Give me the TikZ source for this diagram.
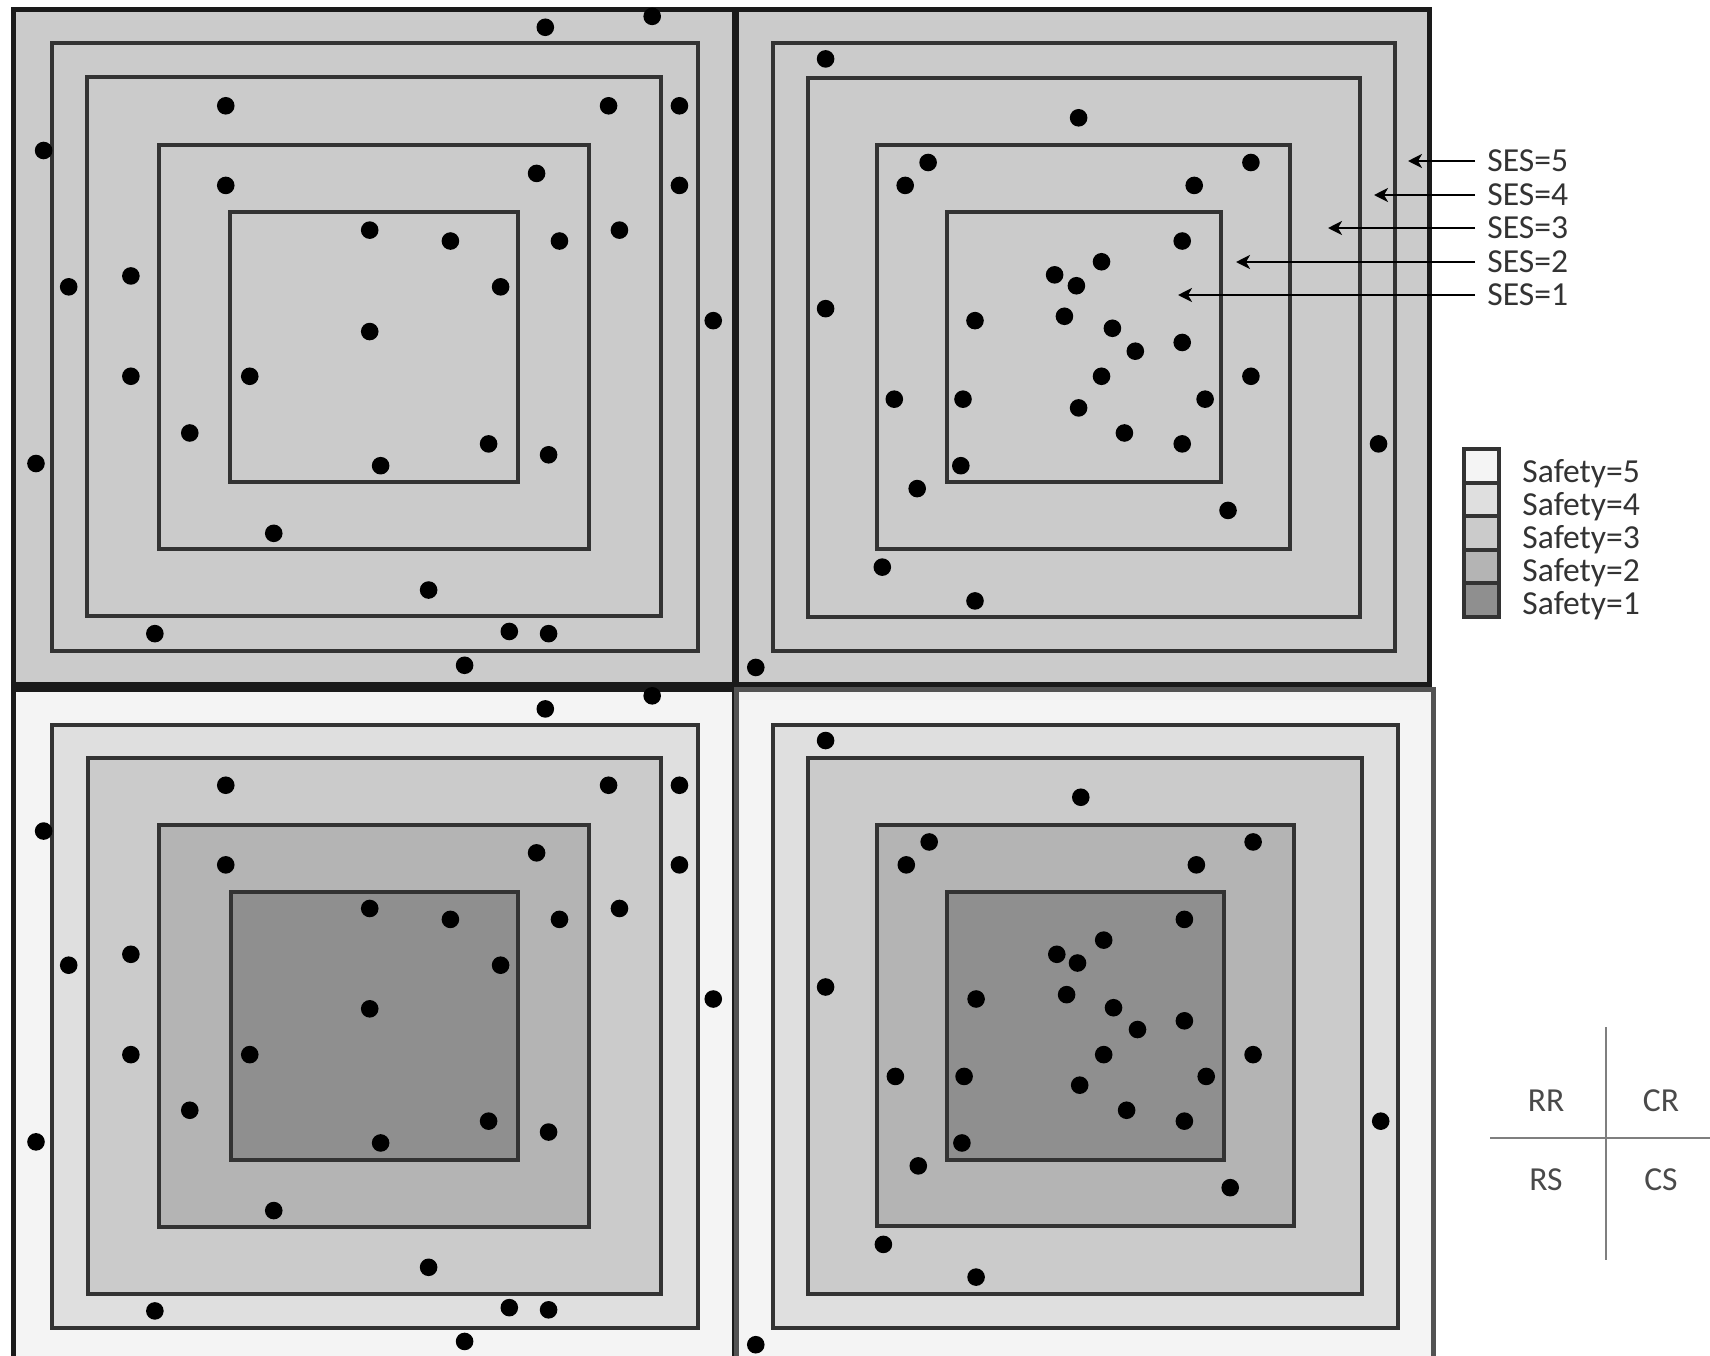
\documentclass[tikz,border=0pt]{standalone}
\usepackage{fontspec}
\setmainfont{Carlito}
\usetikzlibrary{arrows.meta}
\definecolor{sfive}{HTML}{F4F4F4}
\definecolor{sfour}{HTML}{DFDFDF}
\definecolor{sthree}{HTML}{CBCBCB}
\definecolor{stwo}{HTML}{B4B4B4}
\definecolor{sone}{HTML}{8F8F8F}
\definecolor{ringline}{HTML}{333333}
\definecolor{outerline}{HTML}{1A1A1A}
\definecolor{txt}{HTML}{333333}
\definecolor{keytxt}{HTML}{4A4A4A}
\definecolor{keyline}{HTML}{7F7F7F}
\tikzset{
  ring/.style={draw=ringline, line width=1.6pt},
  outerb/.style={draw=outerline, line width=2.5pt},
  dotf/.style={fill=black},
  lbl/.style={font=\fontsize{16.8}{20}\selectfont, text=txt, inner ysep=0pt, text height=10.85pt, text depth=0pt},
  seslbl/.style={lbl, anchor=west, inner xsep=6pt},
  safelbl/.style={lbl, anchor=west, inner xsep=0pt},
  keylbl/.style={lbl, text=keytxt, inner xsep=0pt},
  sesarrow/.style={draw=black, line width=1.3pt, -{Stealth[length=7pt,width=7pt,inset=2pt]}},
  legcell/.style={draw=ringline, line width=1.8pt, minimum width=17.5pt, minimum height=16.8pt, inner sep=0pt},
  keyln/.style={draw=keyline, line width=1.3pt}
}
\begin{document}
\begin{tikzpicture}[x=0.5pt,y=-0.5pt]
\useasboundingbox (0,0) rectangle (1710,1356);
\clip (0,0) rectangle (1710,1356);

% ---------- top-left (RR) ----------
\fill[sthree] (13,9) rectangle (734,684.5);
\filldraw[ring, fill=sthree] (52,43) rectangle (698,651);
\filldraw[ring, fill=sthree] (87,77) rectangle (661,616);
\filldraw[ring, fill=sthree] (159,145) rectangle (589,549);
\filldraw[ring, fill=sthree] (230,212) rectangle (518,482);
% ---------- top-right (CR) ----------
\fill[sthree] (736,9) rectangle (1429,684.5);
\filldraw[ring, fill=sthree] (773,43) rectangle (1395,651);
\filldraw[ring, fill=sthree] (808,78) rectangle (1360,617);
\filldraw[ring, fill=sthree] (877,145) rectangle (1290,549);
\filldraw[ring, fill=sthree] (947,212) rectangle (1221,482);
% ---------- bottom-left (RS) ----------
\fill[sfive] (13,689.5) rectangle (734,1380);
\filldraw[ring, fill=sfour] (52,725) rectangle (698,1328);
\filldraw[ring, fill=sthree] (88,758) rectangle (661,1294);
\filldraw[ring, fill=stwo] (159,825) rectangle (589,1227);
\filldraw[ring, fill=sone] (231,892) rectangle (518,1160);
% ---------- bottom-right (CS) ----------
\fill[sfive] (736,689.5) rectangle (1433,1380);
\filldraw[ring, fill=sfour] (773,725) rectangle (1398,1328);
\filldraw[ring, fill=sthree] (808,758) rectangle (1362,1294);
\filldraw[ring, fill=stwo] (877,825) rectangle (1294,1226);
\filldraw[ring, fill=sone] (947,892) rectangle (1224,1160);

% outer quadrant borders
\draw[outerb] (13,9) rectangle (734,684.5);
\draw[outerb] (736,9) rectangle (1429,684.5);
\draw[outerb] (13,689.5) rectangle (734,1380);
\draw[outerb, draw=outerline!75] (736,689.5) rectangle (1433,1380);

% ---------- dots (given in 1568x1243 units) ----------
\begin{scope}[x=0.5453pt,y=-0.5453pt]
\foreach \px/\py in {500/25, 598/15, 207/97, 558/97, 623/97, 40/138, 207/170, 492/159, 623/170, 339/211, 413/221, 513/221, 568/211, 63/263, 120/253, 459/263, 654/294, 339/304, 120/345, 229/345, 174/397, 33/425, 448/407, 349/427, 503/417, 251/489, 393/541, 142/581, 467/579, 503/581, 426/610}
  \fill[dotf] (\px,\py) circle (4.4pt);
\foreach \px/\py in {500/650, 598/638, 207/720, 558/720, 623/720, 40/762, 207/793, 492/782, 623/793, 339/833, 413/843, 513/843, 568/833, 63/885, 120/875, 459/885, 654/916, 339/925, 120/967, 229/967, 174/1018, 33/1047, 448/1028, 349/1048, 503/1038, 251/1110, 393/1162, 142/1202, 467/1199, 503/1201, 426/1230}
  \fill[dotf] (\px,\py) circle (4.4pt);
\foreach \px/\py in {757/54, 989/108, 851/149, 830/170, 1147/149, 1095/170, 1084/221, 967/252, 987/262, 1010/240, 757/283, 894/294, 976/290, 1020/301, 1041/322, 1084/314, 1010/345, 1147/345, 820/366, 883/366, 989/374, 1105/366, 1031/397, 1084/407, 881/427, 1264/407, 841/448, 1126/468, 809/520, 894/551, 693/612}
  \fill[dotf] (\px,\py) circle (4.4pt);
\foreach \px/\py in {757/679, 991/731, 852/772, 831/793, 1149/772, 1097/793, 1086/843, 969/875, 988/883, 1012/862, 757/905, 895/916, 978/912, 1021/924, 1043/944, 1086/936, 1012/967, 1149/967, 821/987, 884/987, 990/995, 1106/987, 1033/1018, 1086/1028, 882/1048, 1266/1028, 842/1069, 1128/1089, 810/1141, 895/1171, 693/1233}
  \fill[dotf] (\px,\py) circle (4.4pt);
\end{scope}

% ---------- SES labels and arrows ----------
\node[seslbl] (s5) at (1475,161) {SES=5};
\node[seslbl] (s4) at (1475,195) {SES=4};
\node[seslbl] (s3) at (1475,228) {SES=3};
\node[seslbl] (s2) at (1475,262) {SES=2};
\node[seslbl] (s1) at (1475,295) {SES=1};
\coordinate (t5) at (1408,161);
\coordinate (t4) at (1374,195);
\coordinate (t3) at (1328,228);
\coordinate (t2) at (1236,262);
\coordinate (t1) at (1178,295);
\draw[sesarrow] (s5.west) -- (t5);
\draw[sesarrow] (s4.west) -- (t4);
\draw[sesarrow] (s3.west) -- (t3);
\draw[sesarrow] (s2.west) -- (t2);
\draw[sesarrow] (s1.west) -- (t1);

% ---------- Safety legend ----------
\node[legcell, fill=sfive]  (c5) at (1481.5,466) {};
\node[legcell, fill=sfour]  (c4) at (1481.5,500) {};
\node[legcell, fill=sthree] (c3) at (1481.5,533) {};
\node[legcell, fill=stwo]   (c2) at (1481.5,567) {};
\node[legcell, fill=sone]   (c1) at (1481.5,600) {};
\node[safelbl] (l5) at (1522,472) {Safety=5};
\node[safelbl] (l4) at (1522,505) {Safety=4};
\node[safelbl] (l3) at (1522,538) {Safety=3};
\node[safelbl] (l2) at (1522,571) {Safety=2};
\node[safelbl] (l1) at (1522,604) {Safety=1};

% ---------- quadrant key ----------
\coordinate (kvt) at (1606,1027);
\coordinate (kvb) at (1606,1260);
\coordinate (khl) at (1490,1138);
\coordinate (khr) at (1712,1138);
\draw[keyln] (kvt) -- (kvb);
\draw[keyln] (khl) -- (khr);
\node[keylbl] (rr) at (1546,1101) {RR};
\node[keylbl] (cr) at (1661,1101) {CR};
\node[keylbl] (rs) at (1546,1180) {RS};
\node[keylbl] (cs) at (1661,1180) {CS};
\end{tikzpicture}
\end{document}
